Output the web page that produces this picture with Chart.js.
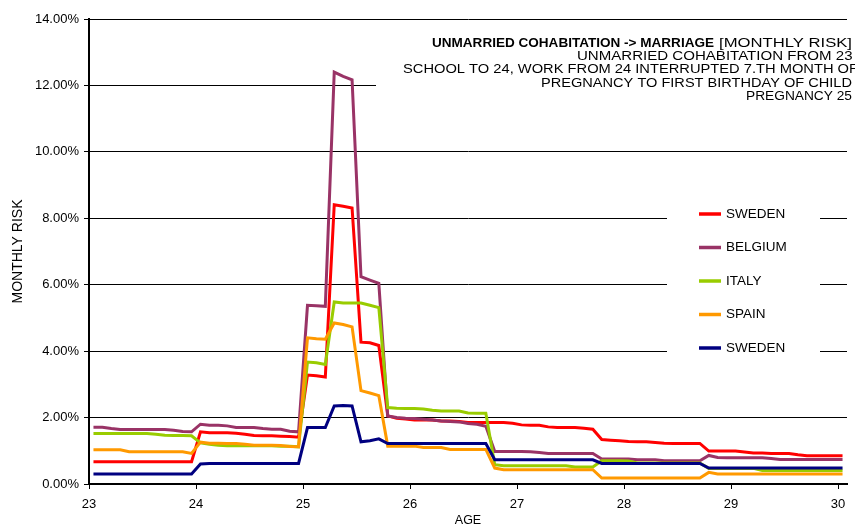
<!DOCTYPE html>
<html>
<head>
<meta charset="utf-8">
<script src="https://cdn.jsdelivr.net/npm/chart.js@4.4.1/dist/chart.umd.min.js"></script>
<style>
  html, body { margin: 0; padding: 0; background: #fff; }
  canvas { display: block; }
</style>
</head>
<body>
<canvas id="riskChart" width="855" height="531"></canvas>
<script>
// ---- data (monthly risk in %, one value per month from age 23 to 30) ----
const ageTicks = [23, 24, 25, 26, 27, 28, 29, 30];
const seriesLabels = ["SWEDEN", "BELGIUM", "ITALY", "SPAIN", "SWEDEN"];
const seriesColors = ["#FF0000", "#993366", "#99CC00", "#FF9900", "#000080"];

const swedenRed = [
  0.67, 0.67, 0.67, 0.67, 0.67, 0.67, 0.67, 0.67, 0.67, 0.67, 0.67, 0.67,
  1.57, 1.54, 1.54, 1.54, 1.53, 1.50, 1.46, 1.45, 1.45, 1.44, 1.43, 1.41,
  3.28, 3.26, 3.22, 8.41, 8.36, 8.31, 4.27, 4.25, 4.17, 2.05, 1.98, 1.96,
  1.93, 1.93, 1.93, 1.90, 1.90, 1.88, 1.85, 1.85, 1.85, 1.85, 1.85, 1.83,
  1.78, 1.77, 1.77, 1.72, 1.70, 1.70, 1.70, 1.68, 1.65, 1.34, 1.32, 1.30,
  1.28, 1.27, 1.27, 1.25, 1.23, 1.22, 1.22, 1.22, 1.22, 0.99, 0.99, 0.99,
  0.99, 0.96, 0.93, 0.93, 0.92, 0.92, 0.92, 0.88, 0.85, 0.85, 0.85, 0.85,
  0.85
];
const belgium = [
  1.71, 1.71, 1.67, 1.64, 1.64, 1.64, 1.64, 1.64, 1.64, 1.62, 1.58, 1.57,
  1.80, 1.77, 1.77, 1.75, 1.70, 1.70, 1.70, 1.67, 1.65, 1.65, 1.59, 1.57,
  5.38, 5.37, 5.35, 12.40, 12.27, 12.17, 6.24, 6.14, 6.04, 2.05, 2.00, 1.98,
  1.97, 1.95, 1.93, 1.90, 1.88, 1.87, 1.82, 1.80, 1.74, 0.98, 0.98, 0.98,
  0.98, 0.97, 0.95, 0.92, 0.92, 0.92, 0.92, 0.92, 0.92, 0.75, 0.75, 0.75,
  0.75, 0.73, 0.73, 0.73, 0.70, 0.70, 0.70, 0.70, 0.70, 0.86, 0.80, 0.79,
  0.79, 0.79, 0.79, 0.79, 0.77, 0.74, 0.74, 0.74, 0.74, 0.74, 0.74, 0.74,
  0.74
];
const italy = [
  1.52, 1.52, 1.52, 1.52, 1.52, 1.52, 1.52, 1.50, 1.47, 1.46, 1.46, 1.45,
  1.24, 1.20, 1.17, 1.15, 1.15, 1.15, 1.15, 1.15, 1.15, 1.14, 1.14, 1.12,
  3.67, 3.65, 3.60, 5.48, 5.45, 5.45, 5.45, 5.38, 5.31, 2.30, 2.28, 2.27,
  2.27, 2.26, 2.22, 2.20, 2.20, 2.20, 2.14, 2.13, 2.13, 0.58, 0.55, 0.55,
  0.55, 0.55, 0.55, 0.55, 0.55, 0.55, 0.51, 0.51, 0.51, 0.70, 0.70, 0.70,
  0.69, 0.63, 0.63, 0.63, 0.63, 0.63, 0.63, 0.63, 0.63, 0.47, 0.47, 0.47,
  0.47, 0.47, 0.47, 0.41, 0.41, 0.41, 0.41, 0.41, 0.41, 0.41, 0.41, 0.41,
  0.41
];
const spain = [
  1.03, 1.03, 1.03, 1.03, 0.97, 0.97, 0.97, 0.97, 0.97, 0.97, 0.97, 0.92,
  1.26, 1.23, 1.23, 1.22, 1.22, 1.20, 1.17, 1.17, 1.17, 1.16, 1.13, 1.12,
  4.40, 4.37, 4.36, 4.85, 4.80, 4.73, 2.81, 2.74, 2.66, 1.14, 1.14, 1.14,
  1.14, 1.10, 1.10, 1.10, 1.04, 1.04, 1.04, 1.04, 1.04, 0.48, 0.43, 0.43,
  0.43, 0.43, 0.43, 0.43, 0.43, 0.43, 0.43, 0.43, 0.43, 0.18, 0.18, 0.18,
  0.18, 0.18, 0.18, 0.18, 0.18, 0.18, 0.18, 0.18, 0.18, 0.35, 0.30, 0.30,
  0.30, 0.30, 0.30, 0.30, 0.30, 0.30, 0.30, 0.30, 0.30, 0.30, 0.30, 0.30,
  0.30
];
const swedenNavy = [
  0.30, 0.30, 0.30, 0.30, 0.30, 0.30, 0.30, 0.30, 0.30, 0.30, 0.30, 0.30,
  0.60, 0.62, 0.62, 0.62, 0.62, 0.62, 0.62, 0.62, 0.62, 0.62, 0.62, 0.62,
  1.70, 1.70, 1.70, 2.35, 2.36, 2.35, 1.27, 1.30, 1.36, 1.22, 1.22, 1.22,
  1.22, 1.22, 1.22, 1.22, 1.22, 1.22, 1.22, 1.22, 1.22, 0.73, 0.73, 0.73,
  0.73, 0.73, 0.73, 0.73, 0.73, 0.73, 0.73, 0.73, 0.73, 0.62, 0.62, 0.62,
  0.62, 0.62, 0.62, 0.62, 0.62, 0.62, 0.62, 0.62, 0.62, 0.48, 0.48, 0.48,
  0.48, 0.48, 0.48, 0.48, 0.48, 0.48, 0.48, 0.48, 0.48, 0.48, 0.48, 0.48,
  0.48
];
const allSeries = [swedenRed, belgium, italy, spain, swedenNavy];

const titleBold = "UNMARRIED COHABITATION -> MARRIAGE";
const titleRest = "[MONTHLY RISK]";
const subtitleLines = [
  "UNMARRIED COHABITATION FROM 23",
  "SCHOOL TO 24, WORK FROM 24 INTERRUPTED 7.TH MONTH OF",
  "PREGNANCY TO FIRST BIRTHDAY OF CHILD",
  "PREGNANCY 25"
];

// each month sits in the middle of its slot on the age axis
const firstAge = ageTicks[0];
const monthCount = swedenRed.length;
const toPoints = (values) => values.map((v, i) => ({ x: firstAge + (i + 0.5) / 12, y: v }));

const FONT = "'Liberation Sans', Arial, sans-serif";
Chart.defaults.font.family = FONT;
Chart.defaults.color = "#000";

// draw text stretched between x0 and x1 (the original text is set wide)
function fitText(ctx, text, x0, x1, y) {
  const w = ctx.measureText(text).width;
  ctx.save();
  ctx.translate(x0, y);
  ctx.scale((x1 - x0) / w, 1);
  ctx.textAlign = "left";
  ctx.fillText(text, 0, 0);
  ctx.restore();
}

const overlayPlugin = {
  id: "overlay",
  beforeDraw(chart) {
    const ctx = chart.ctx;
    ctx.save();
    ctx.fillStyle = "#fff";
    ctx.fillRect(0, 0, chart.width, chart.height);
    ctx.restore();
  },
  beforeDatasetsDraw(chart) {
    const ctx = chart.ctx;
    ctx.save();
    // white text boxes sit on top of the gridlines
    ctx.fillStyle = "#fff";
    ctx.fillRect(376, 28, 479, 76);
    ctx.fillRect(667, 196, 153, 172);

    ctx.fillStyle = "#000";
    ctx.textBaseline = "middle";
    ctx.font = "bold 12.5px " + FONT;
    fitText(ctx, titleBold, 432, 714, 43.5);
    ctx.font = "12.5px " + FONT;
    fitText(ctx, titleRest, 719, 852, 43.5);
    const starts = [577, 403, 541, 746];
    const ends = [852.5, 858, 852, 852];
    const ys = [57, 70, 83.5, 97];
    subtitleLines.forEach((line, k) => fitText(ctx, line, starts[k], ends[k], ys[k]));

    // legend
    chart.data.datasets.forEach((ds, k) => {
      const y = 214 + k * 33.5;
      ctx.strokeStyle = ds.borderColor;
      ctx.lineWidth = 3.5;
      ctx.beginPath();
      ctx.moveTo(699, y);
      ctx.lineTo(721, y);
      ctx.stroke();
      ctx.fillStyle = "#000";
      ctx.font = "12.5px " + FONT;
      const w = ctx.measureText(ds.label).width;
      fitText(ctx, ds.label, 726, 726 + w * 1.08, y + 0.5);
    });
    ctx.restore();
  }
};

new Chart(document.getElementById("riskChart"), {
  type: "line",
  data: {
    datasets: allSeries.map((values, k) => ({
      label: seriesLabels[k],
      data: toPoints(values),
      borderColor: seriesColors[k],
      backgroundColor: seriesColors[k],
      borderWidth: 3,
      pointRadius: 0,
      tension: 0,
      fill: false,
      order: allSeries.length - k   // later series drawn on top, like the original
    }))
  },
  options: {
    responsive: false,
    animation: false,
    layout: { padding: { top: 19, right: 8, left: 0, bottom: 0 } },
    plugins: { legend: { display: false }, tooltip: { enabled: false } },
    scales: {
      x: {
        type: "linear",
        min: firstAge,
        max: firstAge + monthCount / 12,
        afterBuildTicks: (scale) => { scale.ticks = ageTicks.map((v) => ({ value: v })); },
        afterFit: (scale) => { scale.height = 47; },
        ticks: { font: { size: 13 }, padding: 8, maxRotation: 0, autoSkip: false, callback: (v) => String(v) },
        grid: { drawOnChartArea: false, drawTicks: true, tickLength: 5, color: "#000", lineWidth: 1 },
        border: { display: true, color: "#000", width: 2 },
        title: { display: true, text: "AGE", font: { size: 12.5 }, padding: { top: 0, bottom: 2.5 } }
      },
      y: {
        min: 0,
        max: 14,
        afterFit: (scale) => { scale.width = 89; },
        ticks: { stepSize: 2, padding: 5, font: { size: 13 }, callback: (v) => v.toFixed(2) + "%" },
        grid: { color: "#000", lineWidth: 1, tickLength: 5 },
        border: { display: true, color: "#000", width: 2 },
        title: { display: true, text: "MONTHLY RISK", font: { size: 14 }, padding: { top: 10, bottom: 0 } }
      }
    }
  },
  plugins: [overlayPlugin]
});
</script>
</body>
</html>
